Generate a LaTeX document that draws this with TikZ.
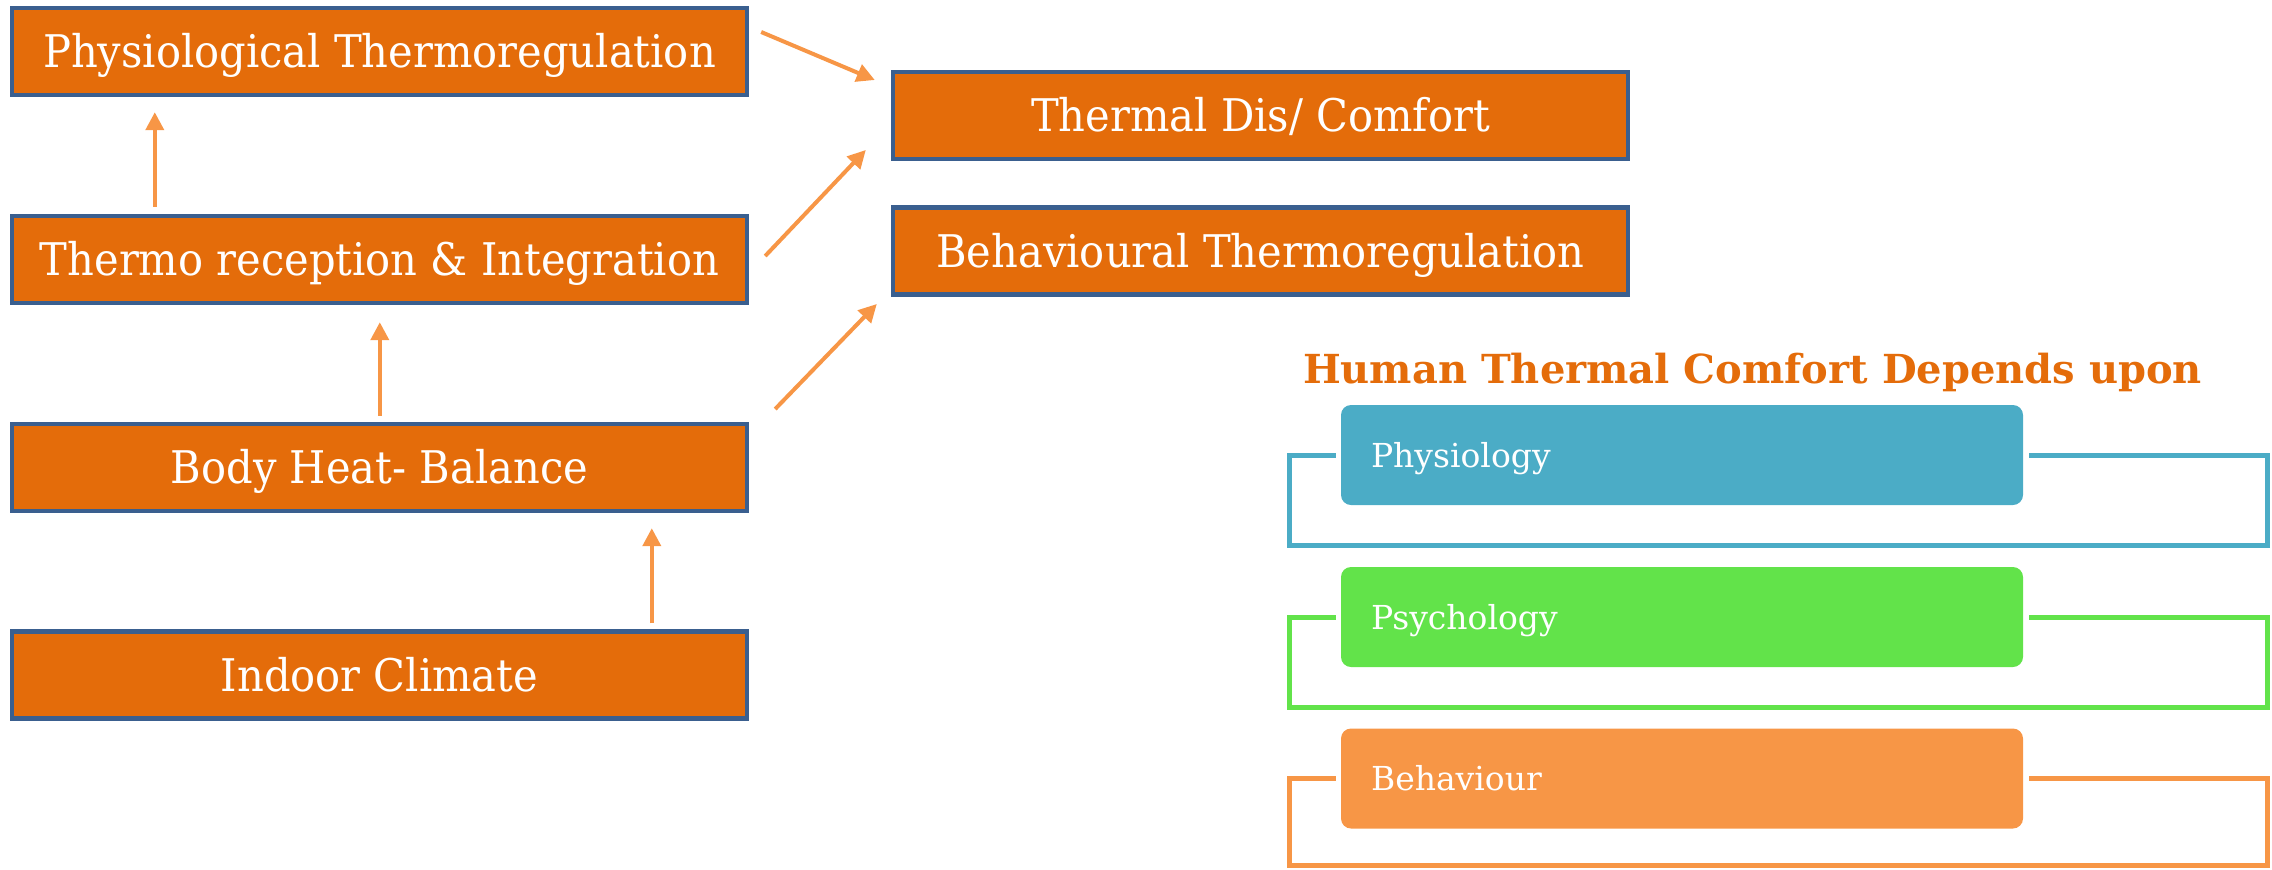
\documentclass[tikz,border=0pt]{standalone}
\usepackage{fontspec}
\setmainfont{DejaVu Serif}
\newfontfamily\boxfont[FakeStretch=0.925]{DejaVu Serif}
\usetikzlibrary{arrows.meta,calc}
\definecolor{boxfill}{HTML}{E46C0A}
\definecolor{boxline}{HTML}{3A5F8F}
\definecolor{arrcol}{HTML}{F79646}
\definecolor{titlecol}{HTML}{E46C0A}
\definecolor{cblue}{HTML}{4BACC6}
\definecolor{cgreen}{HTML}{62E34A}
\definecolor{corange}{HTML}{F79646}
\begin{document}
\begin{tikzpicture}[x=0.5pt,y=-0.5pt,
  mainbox/.style={draw=boxline, line width=2.2pt, fill=boxfill, text=white,
    minimum width=367.5pt, minimum height=43.5pt, inner sep=0pt,
    text height=16.4pt, text depth=0pt, font=\boxfont\fontsize{22.5}{26}\selectfont},
  arr/.style={draw=arrcol, line width=2pt, -{Triangle[length=9pt,width=9pt]}},
  catbox/.style={rounded corners=5pt, minimum width=341pt, minimum height=50pt,
    text width=311pt, inner xsep=15pt, align=left, text=white,
    text height=12pt, text depth=0pt, font=\fontsize{16.5}{20}\selectfont},
  bracket/.style={line width=2.5pt}]
\useasboundingbox (0,0) rectangle (2272,869);
\node[mainbox] (phys) at (379.5,51.5) {Physiological Thermoregulation};
\node[mainbox] (thermo) at (379.5,259.5) {Thermo reception \& Integration};
\node[mainbox] (body) at (379.5,467.5) {Body Heat- Balance};
\node[mainbox] (indoor) at (379.5,675) {Indoor Climate};
\node[mainbox] (comfort) at (1260.5,115.5) {Thermal Dis/ Comfort};
\node[mainbox] (behav) at (1260.5,251) {Behavioural Thermoregulation};
\draw[arr] ($(thermo.north west)+(145,-7)$) -- ($(phys.south west)+(145,15)$);
\draw[arr] ($(body.north west)+(370,-6)$) -- ($(thermo.south west)+(370,17)$);
\draw[arr] ($(indoor.north west)+(642,-6)$) -- ($(body.south west)+(642,15)$);
\draw[arr] ($(phys.east)+(12,-19.5)$) -- ($(comfort.west)+(-16,-35.5)$);
\draw[arr] ($(thermo.east)+(16,-3.5)$) -- ($(comfort.west)+(-25,34.5)$);
\draw[arr] ($(body.east)+(26,-58.5)$) -- ($(behav.west)+(-14,53)$);
\node[anchor=base, text=titlecol, font=\bfseries\fontsize{20}{24}\selectfont] (title) at (1752.5,383) {Human Thermal Comfort Depends upon};
\node[catbox, fill=cblue] (phy) at (1682,455) {Physiology};
\node[catbox, fill=cgreen] (psy) at (1682,617) {Psychology};
\node[catbox, fill=corange] (beh) at (1682,778.5) {Behaviour};
\draw[bracket, cblue] ($(phy.west)+(-5,0)$) -- ++(-46,0) -- ++(0,90) -- ++(978,0) -- ++(0,-90) -- ($(phy.east)+(6,0)$);
\draw[bracket, cgreen] ($(psy.west)+(-5,0)$) -- ++(-46,0) -- ++(0,90) -- ++(978,0) -- ++(0,-90) -- ($(psy.east)+(6,0)$);
\draw[bracket, corange] ($(beh.west)+(-5,0)$) -- ++(-46,0) -- ++(0,87) -- ++(978,0) -- ++(0,-87) -- ($(beh.east)+(6,0)$);
\end{tikzpicture}
\end{document}
